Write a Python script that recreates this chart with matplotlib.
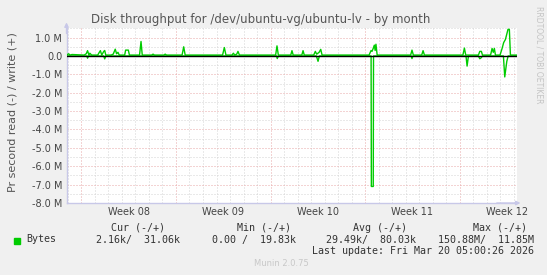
import numpy as np
import matplotlib.pyplot as plt

# days since start of week 08 (Mon), values in MB/s
x_start, x_end = -1.11, 32.22
week_starts = [0, 7, 14, 21, 28]
week_labels = ['Week 08', 'Week 09', 'Week 10', 'Week 11', 'Week 12']

write_t = [-1.11, -0.95, -0.85, -0.7, 0.2, 0.35, 0.45, 0.55, 0.62, 0.75, 1.2, 1.32, 1.40, 1.5,
           1.65, 1.72, 1.8, 2.2, 2.35, 2.5, 2.6, 2.7, 2.8, 3.2, 3.27, 3.47, 3.55, 4.3, 4.41,
           4.5, 5.2, 5.3, 5.4, 6.1, 6.2, 6.3, 7.45, 7.57, 7.68, 10.45, 10.58, 10.7, 11.15,
           11.25, 11.35, 11.5, 11.59, 11.7, 14.38, 14.48, 14.58, 15.5, 15.59, 15.68, 16.32,
           16.41, 16.5, 17.2, 17.32, 17.42, 17.6, 17.72, 17.82, 21.3, 21.45, 21.52, 21.6,
           21.69, 21.75, 21.81, 21.9, 24.38, 24.48, 24.58, 25.2, 25.3, 25.4, 28.25, 28.36,
           28.46, 29.4, 29.5, 29.62, 29.7, 30.3, 30.41, 30.5, 30.58, 30.66, 31.0, 31.15,
           31.27, 31.40, 31.59, 31.69, 31.77, 32.22]
write_v = [0.05, 0.12, 0.05, 0.08, 0.05, 0.12, 0.29, 0.05, 0.15, 0.05, 0.05, 0.2, 0.29, 0.05,
           0.25, 0.30, 0.05, 0.05, 0.1, 0.37, 0.12, 0.2, 0.05, 0.05, 0.32, 0.32, 0.05, 0.05, 0.79,
           0.05, 0.05, 0.1, 0.05, 0.05, 0.1, 0.05, 0.05, 0.5, 0.05, 0.05, 0.46, 0.05, 0.05,
           0.15, 0.05, 0.1, 0.25, 0.05, 0.05, 0.55, 0.05, 0.05, 0.29, 0.05, 0.05,
           0.29, 0.05, 0.05, 0.25, 0.1, 0.2, 0.36, 0.05, 0.05, 0.3, 0.25, 0.4,
           0.59, 0.3, 0.64, 0.05, 0.05, 0.32, 0.05, 0.05, 0.29, 0.05, 0.05, 0.43,
           0.05, 0.05, 0.25, 0.25, 0.05, 0.05, 0.41, 0.2, 0.41, 0.05, 0.05, 0.4,
           0.73, 0.9, 1.45, 1.45, 0.05, 0.05]

read_t = [-1.11, 0.4, 0.45, 0.5, 1.65, 1.72, 1.8, 14.45, 14.5, 14.58, 17.4, 17.52, 17.62,
          21.45, 21.47, 21.61, 21.63, 24.42, 24.48, 24.55, 28.48, 28.56, 28.66, 29.4, 29.5,
          29.6, 29.7, 31.25, 31.35, 31.5, 31.6, 32.22]
read_v = [0.0, 0.0, 0.12, 0.0, 0.0, 0.16, 0.0, 0.0, 0.14, 0.0, 0.0, 0.29, 0.0,
          0.0, 7.1, 7.1, 0.0, 0.0, 0.14, 0.0, 0.0, 0.55, 0.0, 0.0, 0.15,
          0.1, 0.0, 0.0, 1.14, 0.3, 0.0, 0.0]

y_ticks = [1, 0, -1, -2, -3, -4, -5, -6, -7, -8]

W, H = 547, 275
fig = plt.figure(figsize=(W / 100, H / 100), dpi=100, facecolor='#f0f0f0')
ax = fig.add_axes([66.5 / W, 1 - 203 / H, 450 / W, (203 - 27.5) / H])
ax.set_facecolor('white')
ax.set_xlim(x_start, x_end)
ax.set_ylim(-8, 1.55)

# grid
dots = (0, (1, 2))
for d in range(-1, 33):
    red = d in week_starts
    ax.axvline(d, color='#e8a8a8' if red else '#d4d4d4', lw=0.72, ls=dots, zorder=1)
for v in np.arange(-8, 1.6, 0.5):
    red = float(v).is_integer()
    ax.axhline(v, color='#e8a8a8' if red else '#d4d4d4', lw=0.72, ls=dots, zorder=1)

ax.plot(write_t, write_v, color='#00cc00', lw=1.0, zorder=3)
ax.plot(read_t, -np.array(read_v), color='#00cc00', lw=1.0, zorder=3)
ax.axhline(0, color='black', lw=1.0, zorder=4)

ax.set_yticks(y_ticks)
ax.set_yticklabels(['0.0' if v == 0 else f'{v:.1f} M' for v in y_ticks])
ax.set_xticks([s + 3.5 for s in week_starts])
ax.set_xticklabels(week_labels)
ax.tick_params(length=0, labelsize=7, colors='#444444', pad=3)

for s in ['top', 'right']:
    ax.spines[s].set_visible(False)
for s in ['left', 'bottom']:
    ax.spines[s].set_color('#c8c8e8')
    ax.spines[s].set_linewidth(1)
ax.annotate('', xy=(0, 1.045), xytext=(0, 0.95), xycoords='axes fraction',
            arrowprops=dict(arrowstyle='-|>', color='#c8c8e8', lw=1, mutation_scale=6))
ax.annotate('', xy=(1.015, 0), xytext=(0.95, 0), xycoords='axes fraction',
            arrowprops=dict(arrowstyle='-|>', color='#c8c8e8', lw=1, mutation_scale=6))

def px(x, y, s, **kw):
    fig.text(x / W, 1 - y / H, s, va='center', **kw)

px(261, 19, 'Disk throughput for /dev/ubuntu-vg/ubuntu-lv - by month', ha='center',
   fontsize=8.5, color='#555555')
px(13, 112, 'Pr second read (-) / write (+)', ha='center', rotation=90, fontsize=8,
   color='#555555')
px(539, 55, 'RRDTOOL / TOBI OETIKER', ha='center', rotation=-90, fontsize=5.5,
   color='#c4c4c4')

mono = dict(family='DejaVu Sans Mono', fontsize=7.2, color='#333333')
fig.patches.append(plt.Rectangle((14 / W, 1 - 243.5 / H), 6 / W, 6 / H,
                                 transform=fig.transFigure, color='#00cc00'))
px(26.5, 239.5, 'Bytes', ha='left', **mono)
headers = ['Cur (-/+)', 'Min (-/+)', 'Avg (-/+)', 'Max (-/+)']
header_x = [165, 291, 407, 527]
values = ['2.16k/  31.06k', '0.00 /  19.83k', '29.49k/  80.03k', '150.88M/  11.85M']
value_x = [179.5, 296.5, 415.5, 533.5]
for h, hx in zip(headers, header_x):
    px(hx, 228, h, ha='right', **mono)
for v, vx in zip(values, value_x):
    px(vx, 239.5, v, ha='right', **mono)
px(533.5, 251, 'Last update: Fri Mar 20 05:00:26 2026', ha='right', **mono)
px(281, 264, 'Munin 2.0.75', ha='center', fontsize=6, color='#c8c8c8')

fig.savefig('out.png', dpi=100, facecolor=fig.get_facecolor())
